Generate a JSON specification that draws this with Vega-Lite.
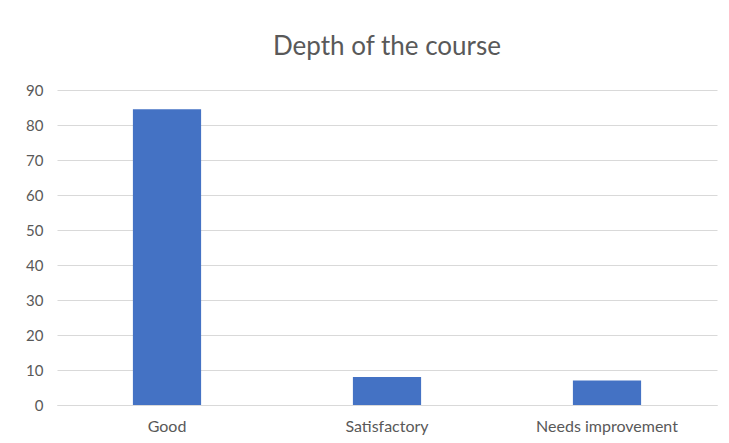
{
  "$schema": "https://vega.github.io/schema/vega-lite/v6.json",
  "autosize": {"type": "fit", "contains": "padding"},
  "width": 729,
  "height": 443,
  "padding": {"left": 25, "right": 12, "top": 34, "bottom": 9},
  "background": "white",
  "title": {
    "text": "Depth of the course",
    "anchor": "middle",
    "font": "Lato",
    "fontSize": 26,
    "fontWeight": "normal",
    "color": "#595959",
    "offset": 23
  },
  "data": {
    "values": [
      {"category": "Good", "value": 84.5},
      {"category": "Satisfactory", "value": 8},
      {"category": "Needs improvement", "value": 7}
    ]
  },
  "mark": {"type": "bar", "color": "#4472C4"},
  "encoding": {
    "x": {
      "field": "category",
      "type": "nominal",
      "sort": null,
      "scale": {"paddingInner": 0.69, "paddingOuter": 0.345},
      "axis": {
        "title": null,
        "labelAngle": 0,
        "ticks": false,
        "labelPadding": 13,
        "labelFont": "Lato",
        "labelFontSize": 16,
        "labelColor": "#595959",
        "domainColor": "#d9d9d9"
      }
    },
    "y": {
      "field": "value",
      "type": "quantitative",
      "scale": {"domain": [0, 90]},
      "axis": {
        "title": null,
        "values": [0, 10, 20, 30, 40, 50, 60, 70, 80, 90],
        "ticks": false,
        "domain": false,
        "labelPadding": 14,
        "labelFont": "Lato",
        "labelFontSize": 15,
        "labelColor": "#595959",
        "gridColor": "#d9d9d9"
      }
    }
  },
  "config": {"view": {"stroke": null}}
}
